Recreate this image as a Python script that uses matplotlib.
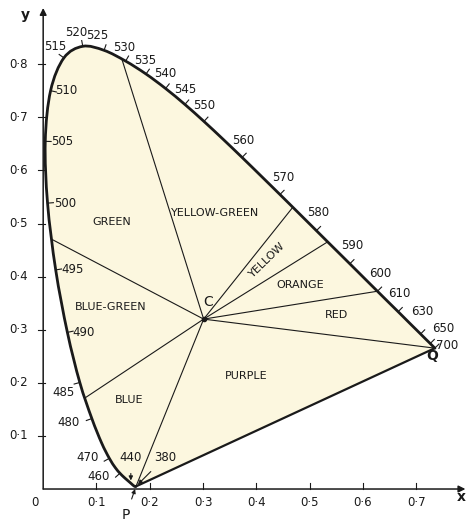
import matplotlib
matplotlib.use('Agg')
import numpy as np
import matplotlib.pyplot as plt
from matplotlib.path import Path
from matplotlib.patches import PathPatch

# CIE 1931 spectral locus, 380-700 nm every 5 nm
wavelengths = list(range(380, 705, 5))
locus_x = [0.1741, 0.1740, 0.1738, 0.1736, 0.1733, 0.1730, 0.1726, 0.1721, 0.1714, 0.1703,
           0.1689, 0.1669, 0.1644, 0.1611, 0.1566, 0.1510, 0.1440, 0.1355, 0.1241, 0.1096,
           0.0913, 0.0687, 0.0454, 0.0235, 0.0082, 0.0039, 0.0139, 0.0389, 0.0743, 0.1142,
           0.1547, 0.1929, 0.2296, 0.2658, 0.3016, 0.3373, 0.3731, 0.4087, 0.4441, 0.4788,
           0.5125, 0.5448, 0.5752, 0.6029, 0.6270, 0.6482, 0.6658, 0.6801, 0.6915, 0.7006,
           0.7079, 0.7140, 0.7190, 0.7230, 0.7260, 0.7283, 0.7300, 0.7311, 0.7320, 0.7327,
           0.7334, 0.7340, 0.7344, 0.7346, 0.7347]
locus_y = [0.0050, 0.0050, 0.0049, 0.0049, 0.0048, 0.0048, 0.0048, 0.0048, 0.0051, 0.0058,
           0.0069, 0.0086, 0.0109, 0.0138, 0.0177, 0.0227, 0.0297, 0.0399, 0.0578, 0.0868,
           0.1327, 0.2007, 0.2950, 0.4127, 0.5384, 0.6548, 0.7502, 0.8120, 0.8338, 0.8262,
           0.8059, 0.7816, 0.7543, 0.7243, 0.6923, 0.6589, 0.6245, 0.5896, 0.5547, 0.5202,
           0.4866, 0.4544, 0.4242, 0.3965, 0.3725, 0.3514, 0.3340, 0.3197, 0.3083, 0.2993,
           0.2920, 0.2859, 0.2809, 0.2770, 0.2740, 0.2717, 0.2700, 0.2689, 0.2680, 0.2673,
           0.2666, 0.2660, 0.2656, 0.2654, 0.2653]

# white point C as drawn
white_x, white_y = 0.301, 0.320

# ends of the region boundaries on the locus (each joined to C)
boundary_x = [0.0165, 0.1477, 0.4683, 0.5336, 0.6270, 0.7347, 0.1741, 0.0782]
boundary_y = [0.4701, 0.8094, 0.5307, 0.4655, 0.3725, 0.2653, 0.0050, 0.1714]

region_names = ['GREEN', 'YELLOW-GREEN', 'YELLOW', 'ORANGE', 'RED',
                'BLUE-GREEN', 'BLUE', 'PURPLE']
region_x = [0.129, 0.323, 0.420, 0.482, 0.550, 0.126, 0.161, 0.381]
region_y = [0.503, 0.520, 0.431, 0.384, 0.328, 0.343, 0.168, 0.213]
region_rot = [0, 0, 44, 0, 0, 0, 0, 0]

# wavelengths marked on the curve
marked_nm = [515, 520, 525, 530, 535, 540, 545, 550, 560, 570, 580, 590, 600, 610, 630, 650, 700,
             510, 505, 500, 495, 490, 485, 480, 470, 460, 440, 380]

x_ticks = [0.1, 0.2, 0.3, 0.4, 0.5, 0.6, 0.7]
y_ticks = [0.1, 0.2, 0.3, 0.4, 0.5, 0.6, 0.7, 0.8]

# label offsets in pixels from the point on the locus: (dx, dy, ha)
label_off = {
    515: (-9, 11, 'center'), 520: (-7, 14, 'center'), 525: (-7, 15, 'center'),
    530: (-1, 14, 'center'), 535: (-1, 14, 'center'), 540: (0, 15, 'center'),
    545: (0, 15, 'center'), 550: (0, 16, 'center'), 560: (1, 17, 'center'),
    570: (3, 17, 'center'), 580: (2, 18, 'center'), 590: (2, 18, 'center'),
    600: (3, 18, 'center'), 610: (1, 18, 'center'), 630: (2, 22, 'center'),
    650: (13, 15, 'center'), 700: (12, 3, 'center'),
    510: (5, 0, 'left'), 505: (6, 0, 'left'), 500: (7, 0, 'left'),
    495: (6, 0, 'left'), 490: (5, 0, 'left'),
    485: (-5, -10, 'right'), 480: (-12, -4, 'right'),
    470: (-11, 1, 'right'), 460: (-10, -3, 'right'),
}
inward = {510, 505, 500, 495, 490}

ink = '#1a1a1a'
fill_col = '#fcf7df'


def smooth_path(xs, ys, close=False):
    # Catmull-Rom through the points, drawn as cubic Bezier pieces
    pts = np.column_stack([xs, ys])
    verts = [pts[0]]
    codes = [Path.MOVETO]
    n = len(pts)
    for i in range(n - 1):
        p0 = pts[max(i - 1, 0)]
        p1, p2 = pts[i], pts[i + 1]
        p3 = pts[min(i + 2, n - 1)]
        verts += [p1 + (p2 - p0) / 6, p2 - (p3 - p1) / 6, p2]
        codes += [Path.CURVE4] * 3
    if close:
        verts += [pts[0], pts[0]]
        codes += [Path.LINETO, Path.CLOSEPOLY]
    return Path(verts, codes)


fig = plt.figure(figsize=(4.67, 5.23), dpi=100)
ax = fig.add_axes([0, 0, 1, 1])
ax.set_xlim(-0.081, 0.795)
ax.set_ylim(-0.064, 0.921)
ax.axis('off')

lx = np.array(locus_x)
ly = np.array(locus_y)

# filled gamut, spectral locus and purple line
ax.add_patch(PathPatch(smooth_path(lx, ly, close=True), facecolor=fill_col,
                       edgecolor='none', zorder=1))
ax.add_patch(PathPatch(smooth_path(lx, ly), facecolor='none', edgecolor=ink,
                       lw=2.0, zorder=4, capstyle='round'))
ax.plot([lx[0], lx[-1]], [ly[0], ly[-1]], color=ink, lw=1.6, zorder=4)

# boundaries from C
for bx, by in zip(boundary_x, boundary_y):
    ax.plot([white_x, bx], [white_y, by], color=ink, lw=0.8, zorder=3)
ax.plot(white_x, white_y, 'o', color=ink, ms=3, zorder=5)
ax.annotate('C', (white_x, white_y), xytext=(4, 17), textcoords='offset pixels',
            ha='center', va='center', fontsize=10, color=ink)

for name, tx, ty, rot in zip(region_names, region_x, region_y, region_rot):
    ax.text(tx, ty, name, ha='center', va='center', fontsize=8, rotation=rot,
            color=ink, zorder=6)

# wavelength ticks and labels
for nm in marked_nm:
    i = wavelengths.index(nm)
    px, py = lx[i], ly[i]
    if nm in label_off:
        j0, j1 = max(i - 1, 0), min(i + 1, len(lx) - 1)
        tx, ty = lx[j1] - lx[j0], ly[j1] - ly[j0]
        n = np.hypot(tx, ty)
        nx, ny = -ty / n, tx / n
        if nm in inward:
            nx, ny = -nx, -ny
        L = 0.011
        ax.plot([px, px + nx * L], [py, py + ny * L], color=ink, lw=0.8, zorder=4)
        dx, dy, ha = label_off[nm]
        ax.annotate(str(nm), (px, py), xytext=(dx, dy), textcoords='offset pixels',
                    ha=ha, va='center', fontsize=8.5, color=ink)

arrow = dict(arrowstyle='-|>', lw=0.8, color=ink, mutation_scale=6, shrinkA=5, shrinkB=2)
i440 = wavelengths.index(440)
ax.annotate('440', (lx[i440], ly[i440]), xytext=(0, 26), textcoords='offset pixels',
            ha='center', va='center', fontsize=8.5, color=ink, arrowprops=arrow)
ax.annotate('380', (lx[0], ly[0]), xytext=(29, 29), textcoords='offset pixels',
            ha='center', va='center', fontsize=8.5, color=ink, arrowprops=arrow)
ax.annotate('P', (lx[0], ly[0]), xytext=(-10, -29), textcoords='offset pixels',
            ha='center', va='center', fontsize=10, color=ink, arrowprops=arrow)
ax.annotate('Q', (lx[-1], ly[-1]), xytext=(-3, -8), textcoords='offset pixels',
            ha='center', va='center', fontsize=10, color=ink, fontweight='bold')

# axes with arrow heads
ax_arrow = dict(arrowstyle='-|>', lw=1.1, color=ink, mutation_scale=10, shrinkA=0, shrinkB=0)
ax.annotate('', xy=(0, 0.906), xytext=(0, 0), arrowprops=ax_arrow)
ax.annotate('', xy=(0.792, 0), xytext=(0, 0), arrowprops=ax_arrow)

for t in x_ticks:
    ax.plot([t, t], [0, 0.011], color=ink, lw=0.8)
    ax.text(t, -0.026, f'0·{int(round(t * 10))}', ha='center', va='center',
            fontsize=8.5, color=ink)
for t in y_ticks:
    ax.plot([-0.010, 0.004], [t, t], color=ink, lw=0.8)
    ax.text(-0.047, t, f'0·{int(round(t * 10))}', ha='center', va='center',
            fontsize=8.5, color=ink)
ax.text(-0.015, -0.026, '0', ha='center', va='center', fontsize=8.5, color=ink)
ax.text(0.784, -0.015, 'x', ha='center', va='center', fontsize=10, color=ink,
        fontweight='bold')
ax.text(-0.034, 0.893, 'y', ha='center', va='center', fontsize=10, color=ink,
        fontweight='bold')

fig.savefig('out.png', dpi=100)
